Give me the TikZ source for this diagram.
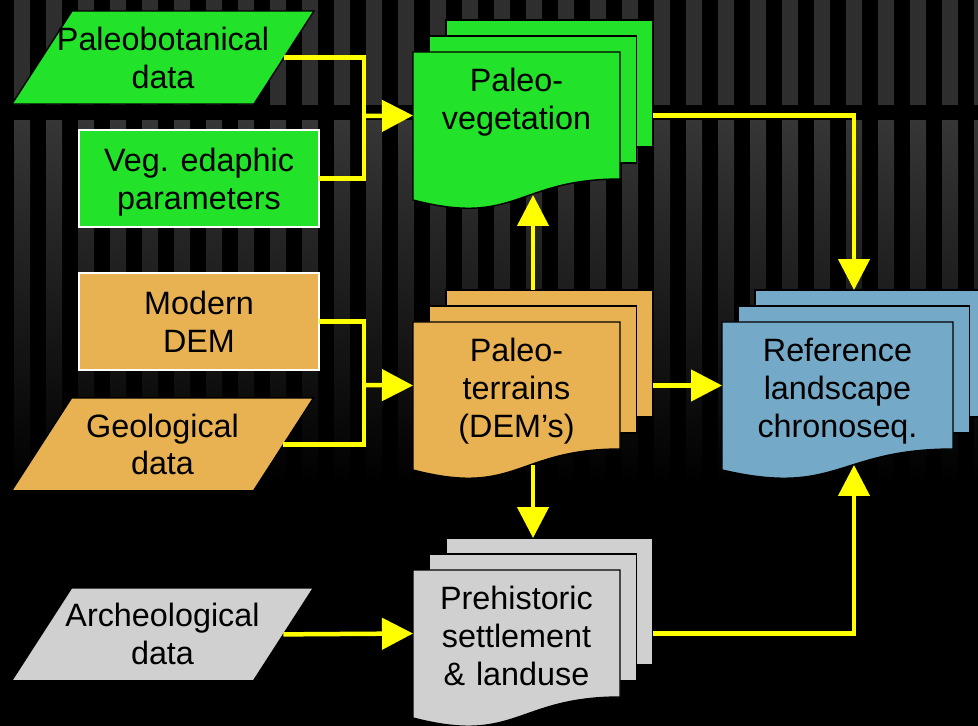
\documentclass[tikz,border=0pt]{standalone}
\usepackage{fontspec}
\setmainfont{Liberation Sans}
\usetikzlibrary{positioning, arrows.meta, calc}
\definecolor{bgVeg}{HTML}{22E22A}
\definecolor{bgTerrain}{HTML}{E8B252}
\definecolor{bgRef}{HTML}{74AAC8}
\definecolor{bgArch}{HTML}{D0D0D0}
\definecolor{arrowColor}{HTML}{FFFF00}
\definecolor{stripeTop}{HTML}{2E2E2E}
\definecolor{stripeLow}{HTML}{363636}
\pgfdeclarelayer{back}
\pgfdeclarelayer{pages}
\pgfsetlayers{back,pages,main}
\newcommand\lbl{\fontsize{18.4}{21.6}\selectfont}
\newcommand\nodp[1]{\raisebox{0pt}[\height][0pt]{#1}}
\tikzset{
  dataio/.style={rectangle, minimum width=4.84cm, minimum height=1.86cm,
    inner sep=0pt, outer sep=0pt, align=center, font=\lbl},
  inputbox/.style={rectangle, minimum width=4.8cm, minimum height=1.94cm,
    inner sep=0pt, outer sep=0pt, draw=white, line width=1.1pt,
    align=center, font=\lbl},
  doctext/.style={anchor=north, text width=#1, align=center,
    inner xsep=0pt, inner ysep=0.32cm, outer sep=0pt, font=\lbl},
  doctext/.default=4.14cm,
  docpage/.style={draw=black, line width=0.8pt},
  flowline/.style={draw=arrowColor, line width=0.09cm},
  flowarrow/.style={flowline, -{Triangle[length=0.62cm, width=0.62cm]}},
}
% slanted data frame behind a text node: #1 node, #2 fill
\newcommand\ioframe[2]{%
  \begin{pgfonlayer}{pages}
    \filldraw[docpage, fill=#2] ($(#1.north west)+(30,0)$) -- ($(#1.north east)+(30,0)$)
      -- ($(#1.south east)+(-30,0)$) -- ($(#1.south west)+(-30,0)$) -- cycle;
  \end{pgfonlayer}
}
% stack of three pages behind a text node: #1 node, #2 fill, #3 page width (px)
\newcommand\docstack[3]{%
  \coordinate (#1-F) at (#1.north west);
  \begin{pgfonlayer}{pages}
    \filldraw[docpage, fill=#2] ($(#1-F)+(33,-32)$) rectangle ++(#3,127);
    \filldraw[docpage, fill=#2] ($(#1-F)+(16.5,-16)$) rectangle ++(#3,127);
    \filldraw[docpage, fill=#2] (#1-F) -- ++(#3,0) -- ++(0,127)
      .. controls ++(-#3/2,0) and ($(#1-F)+(#3/2,175)$) .. ($(#1-F)+(0,148)$) -- cycle;
  \end{pgfonlayer}
  \coordinate (#1-n) at ($(#1-F)+({(#3+33)/2},-32)$);
  \coordinate (#1-s) at ($(#1-F)+({(#3+33)/2},143)$);
  \coordinate (#1-w) at ($(#1-F)+(0,63.5)$);
  \coordinate (#1-e) at ($(#1-F)+({#3+33},63.5)$);
}

\begin{document}
\begin{tikzpicture}[x=0.02cm, y=-0.02cm]

  % === Background: black with grey stripes ===
  \useasboundingbox (0,0) rectangle (978,726);
  \begin{pgfonlayer}{back}
    \fill[black] (0,0) rectangle (978,726);
    \foreach \i in {0,...,30} {
      \fill[stripeTop] (14+32*\i,0) rectangle (30+32*\i,105);
      \shade[top color=stripeLow, bottom color=black] (14+32*\i,121) rectangle (30+32*\i,485);
    }
  \end{pgfonlayer}

  % === Input data (left column) ===
  \node[dataio] (pbot) at (163,57.5) {Paleobotanical\\data};
  \ioframe{pbot}{bgVeg}
  \node[inputbox, fill=bgVeg, below=0.52cm of pbot, xshift=0.72cm] (edaph) {Veg. edaphic\\\nodp{parameters}};
  \node[inputbox, fill=bgTerrain, below=0.92cm of edaph] (dem) {Modern\\DEM};
  \node[dataio, below=0.56cm of dem, xshift=-0.73cm] (geo) {Geological\\data};
  \ioframe{geo}{bgTerrain}
  \node[dataio, below=1.94cm of geo] (arch) {Archeological\\data};
  \ioframe{arch}{bgArch}

  % === Derived layers (page stacks) ===
  \node[doctext] (veg) at (516.5,52) {Paleo-\\vegetation};
  \docstack{veg}{bgVeg}{207}
  \node[doctext] (terr) at (516.5,322) {Paleo-\\terrains\\(DEM’s)};
  \docstack{terr}{bgTerrain}{207}
  \node[doctext] (pre) at (516.5,570) {Prehistoric\\settlement\\\& landuse};
  \docstack{pre}{bgArch}{207}
  \node[doctext=4.62cm] (ref) at (837.5,322) {Reference\\landscape\\chronoseq.};
  \docstack{ref}{bgRef}{231}

  % === Junctions ===
  \coordinate (jV) at (364,116);
  \coordinate (jT) at (364,385);

  % === Arrows ===
  \draw[flowline] (pbot.east) -| (jV) |- (edaph.east);
  \draw[flowarrow] (jV) -- (veg-w);
  \draw[flowline] (dem.east) -| (jT) |- (geo.east);
  \draw[flowarrow] (jT) -- (terr-w);
  \draw[flowarrow] (terr-n) -- (veg-s);
  \draw[flowarrow] (terr-s) -- (pre-n);
  \draw[flowarrow] (terr-e) -- (ref-w);
  \draw[flowarrow] (veg-e) -| (ref-n);
  \draw[flowarrow] (pre-e) -| (ref-s);
  \draw[flowarrow] (arch.east) -- (pre-w);

\end{tikzpicture}
\end{document}
